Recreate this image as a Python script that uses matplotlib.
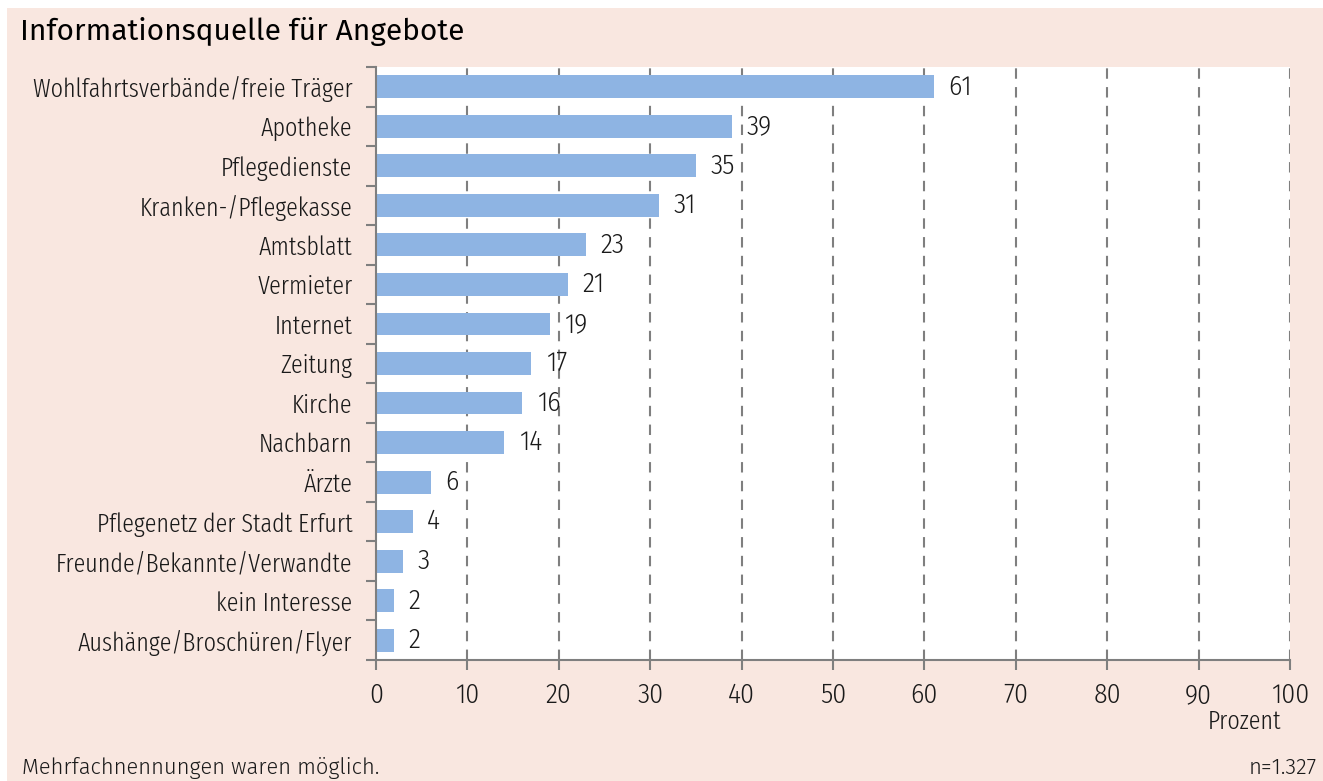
import matplotlib
matplotlib.use("Agg")
import matplotlib.pyplot as plt

categories = [
    "Wohlfahrtsverbände/freie Träger", "Apotheke", "Pflegedienste",
    "Kranken-/Pflegekasse", "Amtsblatt", "Vermieter", "Internet", "Zeitung",
    "Kirche", "Nachbarn", "Ärzte", "Pflegenetz der Stadt Erfurt",
    "Freunde/Bekannte/Verwandte", "kein Interesse", "Aushänge/Broschüren/Flyer",
]
values = [61, 39, 35, 31, 23, 21, 19, 17, 16, 14, 6, 4, 3, 2, 2]
xticks = [0, 10, 20, 30, 40, 50, 60, 70, 80, 90, 100]

title = "Informationsquelle für Angebote"
footnote = "Mehrfachnennungen waren möglich."
n_text = "n=1.327"
xlabel = "Prozent"

NARROW = ["Fira Sans Extra Condensed", "Fira Sans Condensed", "DejaVu Sans"]
DIGITS = ["Fira Sans Condensed", "DejaVu Sans"]
WIDE = ["Fira Sans", "DejaVu Sans"]
LW = 300  # light weight for condensed labels
FS = 18.8
FD = 20

PINK = "#F9E7E0"
BAR = "#8EB4E3"
GREY = "#7F7F7F"
TXT = "#1a1a1a"

W, H = 1323, 781
fig = plt.figure(figsize=(W / 100, H / 100), dpi=100, facecolor="white")
bg = plt.Rectangle((7 / W, 0), 1 - 7 / W, 1 - 8 / H, transform=fig.transFigure,
                   facecolor=PINK, edgecolor="none", zorder=-10)
fig.add_artist(bg)

ax = fig.add_axes([376 / W, 1 - 660 / H, (1290 - 376) / W, (660 - 67) / H])
ax.set_zorder(1)
ax.set_facecolor("white")
y = list(range(len(categories)))
ax.barh(y, values, height=0.58, color=BAR, zorder=3)
ax.set_ylim(len(categories) - 0.5, -0.5)
ax.set_xlim(0, 100)
ax.set_xticks(xticks)
ax.set_xticklabels([str(t) for t in xticks], fontfamily=DIGITS, fontweight=LW,
                   fontsize=FD, color=TXT)
ax.set_yticks(y)
ax.set_yticklabels(categories, fontfamily=NARROW, fontweight=LW, fontsize=FS, color=TXT)
ax.set_yticks([i - 0.5 for i in range(len(categories) + 1)], minor=True)
ax.tick_params(axis="y", which="major", length=0, pad=17)
ax.tick_params(axis="y", which="minor", length=7, width=1.5, color=GREY, direction="out")
ax.tick_params(axis="x", which="major", length=7, width=1.5, color=GREY, direction="out", pad=9)

for x in xticks[1:]:
    ax.axvline(x, color=GREY, linestyle=(0, (5, 4)), linewidth=1.5, zorder=1)

for s in ["top", "right"]:
    ax.spines[s].set_visible(False)
for s in ["left", "bottom"]:
    ax.spines[s].set_color(GREY)
    ax.spines[s].set_linewidth(1.5)
    ax.spines[s].set_zorder(4)

for yi, v in zip(y, values):
    ax.annotate(str(v), (v, yi), xytext=(10.5, 0), textcoords="offset points",
                ha="left", va="center", fontfamily=DIGITS, fontweight=LW,
                fontsize=FD, color=TXT, zorder=5)

fig.text(20 / W, 1 - 31 / H, title, fontfamily=WIDE, fontweight=400, fontsize=21.5,
         va="center", ha="left", color="black")
fig.text(1281 / W, 1 - 722 / H, xlabel, fontfamily=NARROW, fontweight=LW, fontsize=FS,
         va="center", ha="right", color=TXT)
fig.text(22 / W, 1 - 768 / H, footnote, fontfamily=WIDE, fontweight=300, fontsize=15.8,
         va="center", ha="left", color=TXT)
fig.text(1317 / W, 1 - 768 / H, n_text, fontfamily=WIDE, fontweight=300, fontsize=15.8,
         va="center", ha="right", color=TXT)

fig.savefig("out.png", dpi=100, facecolor="white")
